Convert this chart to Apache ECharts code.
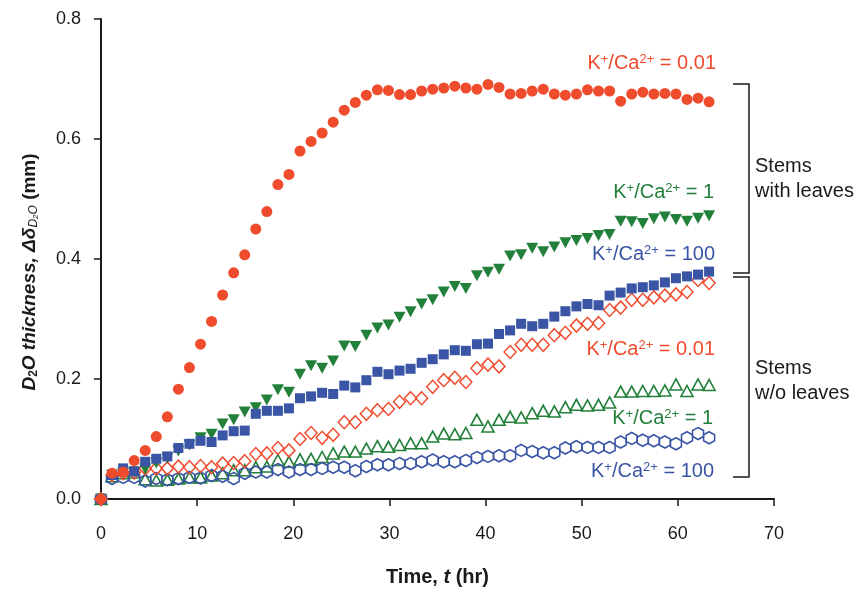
<!DOCTYPE html>
<html>
<head>
<meta charset="utf-8">
<script src="https://cdn.jsdelivr.net/npm/echarts@6/dist/echarts.min.js"></script>
<style>html,body{margin:0;padding:0;background:#fff}#c{width:862px;height:592px}</style>
</head>
<body>
<div id="c"></div>
<script>
const times = [0, 1.15, 2.3, 3.45, 4.6, 5.75, 6.9, 8.05, 9.2, 10.35, 11.5, 12.65, 13.8, 14.95, 16.1, 17.25, 18.4, 19.55, 20.7, 21.85, 23, 24.15, 25.3, 26.45, 27.6, 28.75, 29.9, 31.05, 32.2, 33.35, 34.5, 35.65, 36.8, 37.95, 39.1, 40.25, 41.4, 42.55, 43.7, 44.85, 46, 47.15, 48.3, 49.45, 50.6, 51.75, 52.9, 54.05, 55.2, 56.35, 57.5, 58.65, 59.8, 60.95, 62.1, 63.25];

const redLeaves = [0, 0.043, 0.045, 0.064, 0.081, 0.104, 0.137, 0.183, 0.219, 0.258, 0.296, 0.340, 0.377, 0.407, 0.450, 0.479, 0.524, 0.541, 0.580, 0.596, 0.610, 0.628, 0.648, 0.661, 0.673, 0.682, 0.681, 0.674, 0.674, 0.680, 0.683, 0.685, 0.688, 0.685, 0.683, 0.691, 0.686, 0.675, 0.676, 0.680, 0.683, 0.675, 0.673, 0.675, 0.682, 0.680, 0.680, 0.663, 0.675, 0.678, 0.675, 0.676, 0.675, 0.666, 0.668, 0.662];
const greenLeaves = [0, 0.040, 0.043, 0.045, 0.050, 0.060, 0.068, 0.080, 0.090, 0.102, 0.108, 0.125, 0.132, 0.145, 0.152, 0.165, 0.182, 0.178, 0.208, 0.222, 0.218, 0.230, 0.255, 0.254, 0.273, 0.285, 0.290, 0.303, 0.312, 0.325, 0.332, 0.345, 0.354, 0.351, 0.372, 0.378, 0.383, 0.405, 0.407, 0.418, 0.412, 0.420, 0.427, 0.431, 0.434, 0.439, 0.441, 0.463, 0.462, 0.459, 0.467, 0.470, 0.466, 0.463, 0.468, 0.472];
const blueLeaves = [0, 0.040, 0.051, 0.046, 0.062, 0.067, 0.071, 0.085, 0.092, 0.097, 0.095, 0.106, 0.113, 0.114, 0.142, 0.147, 0.147, 0.151, 0.168, 0.171, 0.177, 0.175, 0.189, 0.186, 0.198, 0.212, 0.208, 0.214, 0.217, 0.227, 0.233, 0.241, 0.248, 0.247, 0.258, 0.259, 0.275, 0.281, 0.292, 0.288, 0.292, 0.304, 0.313, 0.321, 0.325, 0.323, 0.339, 0.344, 0.351, 0.353, 0.356, 0.361, 0.368, 0.371, 0.374, 0.379];
const redNoLeaves = [0, 0.040, 0.043, 0.044, 0.051, 0.051, 0.051, 0.054, 0.053, 0.055, 0.053, 0.059, 0.060, 0.063, 0.075, 0.076, 0.085, 0.081, 0.100, 0.110, 0.102, 0.107, 0.128, 0.128, 0.142, 0.148, 0.150, 0.162, 0.168, 0.168, 0.187, 0.198, 0.202, 0.195, 0.218, 0.224, 0.221, 0.245, 0.257, 0.257, 0.257, 0.273, 0.277, 0.289, 0.292, 0.293, 0.315, 0.319, 0.332, 0.332, 0.336, 0.339, 0.341, 0.345, 0.365, 0.360];
const greenNoLeaves = [0, 0.038, 0.043, 0.044, 0.033, 0.031, 0.032, 0.034, 0.036, 0.036, 0.039, 0.043, 0.048, 0.048, 0.053, 0.054, 0.065, 0.062, 0.066, 0.067, 0.070, 0.076, 0.079, 0.079, 0.084, 0.088, 0.087, 0.090, 0.093, 0.093, 0.104, 0.109, 0.108, 0.110, 0.132, 0.121, 0.132, 0.137, 0.136, 0.143, 0.147, 0.146, 0.153, 0.157, 0.156, 0.157, 0.161, 0.179, 0.179, 0.180, 0.180, 0.181, 0.191, 0.180, 0.191, 0.190];
const blueNoLeaves = [0, 0.034, 0.036, 0.036, 0.030, 0.034, 0.032, 0.034, 0.036, 0.035, 0.039, 0.038, 0.034, 0.043, 0.045, 0.045, 0.049, 0.045, 0.049, 0.049, 0.051, 0.053, 0.053, 0.047, 0.054, 0.057, 0.057, 0.059, 0.059, 0.062, 0.065, 0.062, 0.062, 0.064, 0.069, 0.071, 0.072, 0.072, 0.081, 0.079, 0.077, 0.077, 0.085, 0.087, 0.086, 0.086, 0.086, 0.095, 0.101, 0.098, 0.097, 0.095, 0.092, 0.102, 0.109, 0.102];

const xTicks = [0, 10, 20, 30, 40, 50, 60, 70];
const yTicks = [0.0, 0.2, 0.4, 0.6, 0.8];

const RED = '#EF4C2E', GREEN = '#22803B', BLUE = '#3A55A5', INK = '#1a1a1a';
const FONT = '"Liberation Sans", Arial, sans-serif';
const HEX = 'path://M0,-10 L8.66,-5 L8.66,5 L0,10 L-8.66,5 L-8.66,-5 Z';

function pairs(ys) { return times.map((t, i) => [t, ys[i]]); }

const chart = echarts.init(document.getElementById('c'), null, {renderer: 'canvas'});

const richLbl = (c) => ({
  n: {fontSize: 20, color: c, fontFamily: FONT},
  s: {fontSize: 13, color: c, fontFamily: FONT, verticalAlign: 'top', padding: [0, 0, 6, 0]}
});
function kcaLabel(val, color, right, cy) {
  return {
    type: 'text', right: right, top: cy - 12,
    style: {text: '{n|K}{s|+}{n|/Ca}{s|2+}{n| = ' + val + '}', rich: richLbl(color), fill: color}
  };
}

const lineStyle = {stroke: INK, lineWidth: 1.5};

chart.setOption({
  animation: false,
  backgroundColor: '#fff',
  grid: {left: 101, right: 88, top: 19, bottom: 89},
  xAxis: {
    type: 'value', min: xTicks[0], max: xTicks[xTicks.length - 1], interval: 10,
    axisLine: {show: true, lineStyle: {color: INK, width: 2}},
    axisTick: {show: true, length: 7, lineStyle: {color: INK, width: 1.5}},
    splitLine: {show: false},
    axisLabel: {fontSize: 18, color: INK, margin: 26, fontFamily: FONT},
    name: '{b|Time, }{bi|t}{b| (hr)}',
    nameLocation: 'middle', nameGap: 68,
    nameTextStyle: {
      rich: {
        b: {fontSize: 20, fontWeight: 'bold', color: INK, fontFamily: FONT},
        bi: {fontSize: 20, fontWeight: 'bold', fontStyle: 'italic', color: INK, fontFamily: FONT}
      }
    }
  },
  yAxis: {
    type: 'value', min: yTicks[0], max: yTicks[yTicks.length - 1], interval: 0.2,
    axisLine: {show: true, lineStyle: {color: INK, width: 2}},
    axisTick: {show: true, length: 7, lineStyle: {color: INK, width: 1.5}},
    splitLine: {show: false},
    axisLabel: {fontSize: 18, color: INK, margin: 20, fontFamily: FONT, formatter: v => v.toFixed(1)}
  },
  graphic: [
    {
      type: 'text', x: 30, y: 272, rotation: Math.PI / 2,
      style: {
        text: '{bi|D}{sb|2}{bi|O thickness, Δδ}{ss|D}{sss|2}{ss|O}{b| (mm)}',
        align: 'center', verticalAlign: 'middle',
        rich: {
          bi: {fontSize: 19, fontWeight: 'bold', fontStyle: 'italic', fill: INK, fontFamily: FONT},
          b: {fontSize: 19, fontWeight: 'bold', fill: INK, fontFamily: FONT},
          sb: {fontSize: 12, fontWeight: 'bold', fill: INK, fontFamily: FONT, verticalAlign: 'bottom', padding: [6, 0, 0, 0]},
          ss: {fontSize: 12, fontStyle: 'italic', fill: INK, fontFamily: FONT, verticalAlign: 'bottom', padding: [6, 0, 0, 0]},
          sss: {fontSize: 8, fontStyle: 'italic', fill: INK, fontFamily: FONT, verticalAlign: 'bottom', padding: [10, 0, 0, 0]}
        }
      }
    },
    kcaLabel('0.01', RED, 146, 65),
    kcaLabel('1', GREEN, 148, 194),
    kcaLabel('100', BLUE, 147, 256),
    kcaLabel('0.01', RED, 147, 351),
    kcaLabel('1', GREEN, 149, 420),
    kcaLabel('100', BLUE, 148, 473),
    {type: 'polyline', shape: {points: [[733, 84], [749, 84], [749, 273], [733, 273]]}, style: Object.assign({fill: null}, lineStyle)},
    {type: 'polyline', shape: {points: [[733, 277], [749, 277], [749, 477], [733, 477]]}, style: Object.assign({fill: null}, lineStyle)},
    {type: 'text', x: 755, y: 154, style: {text: 'Stems\nwith leaves', fontSize: 20, lineHeight: 25, fill: INK, fontFamily: FONT}},
    {type: 'text', x: 755, y: 356, style: {text: 'Stems\nw/o leaves', fontSize: 20, lineHeight: 25, fill: INK, fontFamily: FONT}}
  ],
  series: [
    {name: 'K/Ca=1 w/o leaves', type: 'scatter', data: pairs(greenNoLeaves), symbol: 'triangle', symbolSize: [12, 11],
     itemStyle: {color: 'rgba(255,255,255,0)', borderColor: GREEN, borderWidth: 1.6, opacity: 1}},
    {name: 'K/Ca=100 w/o leaves', type: 'scatter', data: pairs(blueNoLeaves), symbol: HEX, symbolSize: [11, 12],
     itemStyle: {color: 'rgba(255,255,255,0)', borderColor: BLUE, borderWidth: 1.6, opacity: 1}},
    {name: 'K/Ca=0.01 w/o leaves', type: 'scatter', data: pairs(redNoLeaves), symbol: 'diamond', symbolSize: [12, 13],
     itemStyle: {color: 'rgba(255,255,255,0)', borderColor: RED, borderWidth: 1.5, opacity: 1}},
    {name: 'K/Ca=1 leaves', type: 'scatter', data: pairs(greenLeaves), symbol: 'triangle', symbolRotate: 180, symbolSize: [12, 11],
     itemStyle: {color: GREEN, opacity: 1}},
    {name: 'K/Ca=100 leaves', type: 'scatter', data: pairs(blueLeaves), symbol: 'rect', symbolSize: 10,
     itemStyle: {color: BLUE, opacity: 1}},
    {name: 'K/Ca=0.01 leaves', type: 'scatter', data: pairs(redLeaves), symbol: 'circle', symbolSize: 11,
     itemStyle: {color: RED, opacity: 1}}
  ]
});
</script>
</body>
</html>
